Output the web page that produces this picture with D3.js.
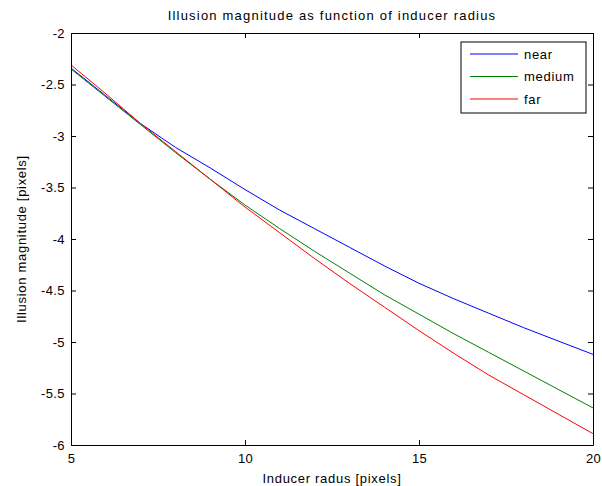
<!DOCTYPE html>
<html>
<head>
<meta charset="utf-8">
<script src="https://cdn.jsdelivr.net/npm/d3@7"></script>
<style>
  html, body { margin: 0; padding: 0; background: #fff; }
  svg text { font-family: "Liberation Sans", Arial, sans-serif; fill: #000; }
</style>
</head>
<body>
<div id="chart"></div>
<script>
const radius = [5, 6, 7, 8, 9, 10, 11, 12, 13, 14, 15, 16, 17, 18, 19, 20];
const near = [-2.34, -2.61, -2.88, -3.11, -3.31, -3.52, -3.72, -3.90, -4.08, -4.26, -4.43, -4.58, -4.72, -4.86, -4.99, -5.12];
const medium = [-2.35, -2.62, -2.89, -3.16, -3.42, -3.67, -3.90, -4.12, -4.33, -4.54, -4.73, -4.92, -5.10, -5.28, -5.46, -5.64];
const far = [-2.31, -2.59, -2.88, -3.15, -3.42, -3.69, -3.94, -4.19, -4.43, -4.66, -4.89, -5.11, -5.32, -5.51, -5.70, -5.89];
const seriesNames = ['near', 'medium', 'far'];
const seriesColors = ['#0000ff', '#008000', '#ff0000'];
const xTicks = [5, 10, 15, 20];
const yTicks = [-2, -2.5, -3, -3.5, -4, -4.5, -5, -5.5, -6];

const width = 602, height = 486;
const margin = { top: 33, right: 9, bottom: 41, left: 71 };
const innerW = width - margin.left - margin.right;
const innerH = height - margin.top - margin.bottom;
const fontSize = 13;
const spacing = '0.7px';

const svg = d3.select('#chart').append('svg')
  .attr('width', width).attr('height', height);

const plot = svg.append('g').attr('transform', `translate(${margin.left},${margin.top})`);

const x = d3.scaleLinear().domain([5, 20]).range([0, innerW]);
const y = d3.scaleLinear().domain([-6, -2]).range([innerH, 0]);

const series = [near, medium, far].map((vals, i) => ({
  name: seriesNames[i],
  color: seriesColors[i],
  points: radius.map((r, j) => ({ r, v: vals[j] }))
}));

const line = d3.line().x(d => x(d.r)).y(d => y(d.v));

plot.append('g').selectAll('path').data(series).join('path')
  .attr('fill', 'none')
  .attr('stroke', d => d.color)
  .attr('stroke-width', 1)
  .attr('d', d => line(d.points));

// box axes, ticks pointing inward; plain hyphen labels like "-2.5"
const fmt = d => String(d);
const tickLen = 5;
const axB = plot.append('g').attr('transform', `translate(0,${innerH})`)
  .call(d3.axisBottom(x).tickValues(xTicks).tickSizeInner(-tickLen).tickSizeOuter(0).tickPadding(9).tickFormat(fmt));
const axT = plot.append('g')
  .call(d3.axisTop(x).tickValues(xTicks).tickSizeInner(-tickLen).tickSizeOuter(0).tickFormat(''));
const axL = plot.append('g')
  .call(d3.axisLeft(y).tickValues(yTicks).tickSizeInner(-tickLen).tickSizeOuter(0).tickPadding(9).tickFormat(fmt));
const axR = plot.append('g').attr('transform', `translate(${innerW},0)`)
  .call(d3.axisRight(y).tickValues(yTicks).tickSizeInner(-tickLen).tickSizeOuter(0).tickFormat(''));

[axB, axT, axL, axR].forEach(a => {
  a.select('.domain').attr('stroke', '#000');
  a.selectAll('.tick line').attr('stroke', '#000');
  a.selectAll('.tick text')
    .attr('font-size', fontSize)
    .attr('letter-spacing', '0.4px')
    .attr('font-family', '"Liberation Sans", Arial, sans-serif')
    .attr('fill', '#000');
});
axL.selectAll('.tick text').attr('dx', 3);

// title and axis labels
svg.append('text')
  .attr('x', margin.left + innerW / 2).attr('y', 20)
  .attr('text-anchor', 'middle').attr('font-size', fontSize)
  .attr('letter-spacing', '1.2px')
  .text('Illusion magnitude as function of inducer radius');

svg.append('text')
  .attr('x', margin.left + innerW / 2).attr('y', 483)
  .attr('text-anchor', 'middle').attr('font-size', fontSize)
  .attr('letter-spacing', spacing)
  .text('Inducer radus [pixels]');

svg.append('text')
  .attr('transform', `translate(26,${margin.top + innerH / 2}) rotate(-90)`)
  .attr('text-anchor', 'middle').attr('font-size', fontSize)
  .attr('letter-spacing', spacing)
  .text('Illusion magnitude [pixels]');

// legend
const legend = svg.append('g').attr('transform', 'translate(461,42)');
legend.append('rect')
  .attr('width', 125).attr('height', 71)
  .attr('fill', '#fff').attr('stroke', '#000');
const items = legend.selectAll('g').data(series).join('g')
  .attr('transform', (d, i) => `translate(0,${12 + i * 22.5})`);
items.append('line')
  .attr('x1', 9).attr('x2', 57)
  .attr('stroke', d => d.color);
items.append('text')
  .attr('x', 63).attr('dy', '0.35em').attr('font-size', fontSize)
  .attr('letter-spacing', spacing)
  .text(d => d.name);
</script>
</body>
</html>
